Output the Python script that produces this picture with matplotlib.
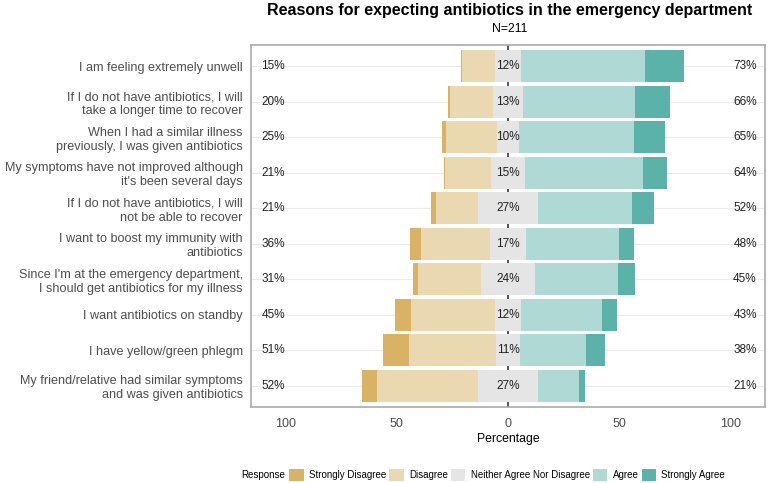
import matplotlib
matplotlib.use("Agg")
import matplotlib.pyplot as plt
from matplotlib.patches import Patch

plt.rcParams['font.family'] = ['Liberation Sans', 'DejaVu Sans']

items = [
    "I am feeling extremely unwell",
    "If I do not have antibiotics, I will\ntake a longer time to recover",
    "When I had a similar illness\npreviously, I was given antibiotics",
    "My symptoms have not improved although\nit's been several days",
    "If I do not have antibiotics, I will\nnot be able to recover",
    "I want to boost my immunity with\nantibiotics",
    "Since I'm at the emergency department,\nI should get antibiotics for my illness",
    "I want antibiotics on standby",
    "I have yellow/green phlegm",
    "My friend/relative had similar symptoms\nand was given antibiotics",
]
strongly_disagree = [0.5, 1.0, 1.8, 0.5, 2.2, 4.9, 2.2, 7.6, 11.7, 6.8]
disagree = [14.7, 19.2, 22.9, 20.9, 18.6, 30.8, 28.7, 37.5, 39.1, 45.4]
neutral = [11.8, 13.3, 10.3, 15.1, 27.3, 16.6, 23.9, 11.8, 11.1, 26.6]
agree = [55.6, 50.5, 51.6, 53.2, 42.2, 41.7, 37.7, 36.4, 29.6, 18.4]
strongly_agree = [17.5, 15.7, 13.6, 10.6, 9.9, 6.6, 7.5, 6.5, 8.4, 3.0]

responses = ["Strongly Disagree", "Disagree", "Neither Agree Nor Disagree", "Agree", "Strongly Agree"]
colors = ["#D9B263", "#EAD9B0", "#E5E5E5", "#AED9D5", "#5AB2A8"]

fig = plt.figure(figsize=(7.77, 4.83), dpi=100)
ax = fig.add_axes([251 / 777, 1 - 407 / 483, 514 / 777, 362 / 483])

ypos = list(range(len(items)))
h = 0.9
ax.axvline(0, color="#333333", lw=1.2, zorder=1)
for y in ypos:
    ax.axhline(y, color="#EBEBEB", lw=0.8, zorder=0)

for i, y in enumerate(ypos):
    half = neutral[i] / 2
    left = -half
    ax.barh(y, disagree[i], left=left - disagree[i], height=h, color=colors[1], zorder=2)
    ax.barh(y, strongly_disagree[i], left=left - disagree[i] - strongly_disagree[i], height=h,
            color=colors[0], zorder=2)
    ax.barh(y, neutral[i], left=-half, height=h, color=colors[2], zorder=2)
    ax.barh(y, agree[i], left=half, height=h, color=colors[3], zorder=2)
    ax.barh(y, strongly_agree[i], left=half + agree[i], height=h, color=colors[4], zorder=2)
    low = round(strongly_disagree[i] + disagree[i])
    high = round(agree[i] + strongly_agree[i])
    ax.text(-105.5, y, f"{low}%", ha="center", va="center", fontsize=8.5, color="#222222", zorder=3)
    ax.text(0, y, f"{round(neutral[i])}%", ha="center", va="center", fontsize=8.5, color="#222222", zorder=3)
    ax.text(106.5, y, f"{high}%", ha="center", va="center", fontsize=8.5, color="#222222", zorder=3)

ax.set_xlim(-115.5, 115.5)
ax.set_ylim(len(items) - 0.4, -0.6)
ax.set_yticks(ypos)
ax.set_yticklabels(items, fontsize=9.1, color="#4D4D4D", linespacing=1.2)
ax.set_xticks([-100, -50, 0, 50, 100])
ax.set_xticklabels(["100", "50", "0", "50", "100"], fontsize=9, color="#4D4D4D")
ax.tick_params(axis="y", length=0, pad=6)
ax.tick_params(axis="x", length=0, pad=8)
ax.set_xlabel("Percentage", fontsize=8.8, labelpad=2)
for s in ax.spines.values():
    s.set_color("#AAAAAA")
    s.set_linewidth(1.2)

fig.text(510 / 777, 1 - 10 / 483, "Reasons for expecting antibiotics in the emergency department",
         ha="center", va="center", fontsize=11.5, fontweight="bold")
fig.text(510 / 777, 1 - 29 / 483, "N=211", ha="center", va="center", fontsize=8.8)

fig.text(241 / 777, 1 - 475 / 483, "Response", ha="left", va="center", fontsize=7)
handles = [Patch(facecolor=c, edgecolor="none") for c in colors]
fig.legend(handles, responses, loc="center left", bbox_to_anchor=(289 / 777, 1 - 475 / 483),
           ncol=5, frameon=False, fontsize=7, handlelength=1.5, handleheight=1.5,
           handletextpad=0.55, columnspacing=0.3, borderpad=0, borderaxespad=0)

fig.savefig("out.png", dpi=100)
